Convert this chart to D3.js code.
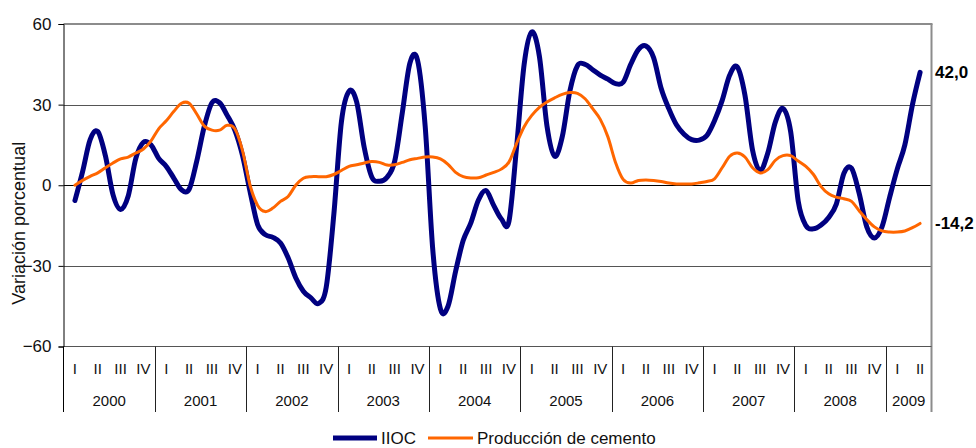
<!DOCTYPE html>
<html>
<head>
<meta charset="utf-8">
<script src="https://cdn.jsdelivr.net/npm/d3@7"></script>
<style>
  html, body { margin: 0; padding: 0; background: #fff; }
  svg { display: block; font-family: "Liberation Sans", Arial, sans-serif; }
</style>
</head>
<body>
<svg id="chart" width="976" height="448"></svg>
<script>
// Year and quarter labels of the category axis
const years = ["2000", "2001", "2002", "2003", "2004", "2005", "2006", "2007", "2008", "2009"];
const quarters = ["I", "II", "III", "IV"];
const lastQuarter = 2;          // 2009 runs up to quarter II
const yTicks = [60, 30, 0, -30, -60];
const firstMonth = 1;           // series start in February 2000 (month index 1)

// Year-on-year % change, centred three-month averages, Feb 2000 – May 2009
const iioc = [
  -5.7, 5, 17, 20, 11, -3.5, -9, -4, 10, 16, 15,
  10, 7, 2.6, -1.7, -1.5, 9, 22, 30.7, 30.7, 26, 20.5, 11.2,
  -2.3, -14.7, -18.4, -19.4, -21.5, -27, -34.4, -39.4, -41.9, -44, -38, -11,
  23.6, 35, 31, 14, 3, 1.5, 3, 9, 27, 45.5, 46.5, 22,
  -24, -46, -45, -32, -20.5, -14, -5.5, -2, -7.5, -12.5, -13.5, 14,
  45, 57, 48, 22, 10.8, 18, 35, 44.5, 45, 43, 41, 39.5,
  37.8, 38.3, 45, 50.5, 51.8, 47.5, 36, 28.5, 22.5, 19, 17, 16.8,
  18.5, 24, 31.5, 41, 44, 33.5, 13, 5.5, 12, 23.6, 28.5, 20,
  -6, -15, -16.2, -14.8, -12, -7, 4.5, 6.3, -3, -15.5, -19.6, -15.5,
  -4.5, 6, 15, 30, 42.0
];
const cemento = [
  0, 1.8, 3.3, 4.6, 6.5, 8.3, 9.8, 10.5, 12, 13.5, 16.5,
  21, 24, 27.5, 30.5, 30.5, 26.5, 22, 20.5, 20.5, 22.3, 21, 13,
  0, -7.5, -9.8, -8.5, -6, -4.2, 0, 2.6, 3.2, 3.2, 3.2, 4,
  5.5, 7, 7.6, 8.3, 8.8, 8.5, 7.5, 7.6, 8.5, 9.5, 10, 10.5,
  10.5, 9.8, 7.8, 4.8, 3.2, 2.7, 2.8, 3.8, 4.8, 6, 8.6, 15.5,
  21.8, 26, 29, 31, 32.5, 33.8, 34.5, 34.2, 32.2, 28.5, 24.5, 18,
  8.5, 2.2, 0.8, 1.8, 2, 1.8, 1.4, 0.8, 0.5, 0.5, 0.5, 0.9,
  1.4, 2.4, 6.5, 10.8, 12, 10.5, 6.5, 4.6, 5.8, 9.3, 11, 11,
  9, 7, 4, -0.5, -3.2, -4.4, -5, -6, -9.5, -12.8, -15.5, -17,
  -17.4, -17.4, -17, -15.8, -14.2
];

const seriesNames = ["IIOC", "Producción de cemento"];
const seriesColors = ["#000080", "#FF6600"];
const endLabels = ["42,0", "-14,2"];

const svg = d3.select("#chart");
const plotLeft = 63.5, plotRight = 931.5, plotTop = 24, plotBottom = 346.5;
const catBottom = 412;
const totalMonths = (years.length - 1) * 12 + lastQuarter * 3;

const x = d3.scaleLinear().domain([0, totalMonths]).range([plotLeft, plotRight]);
const y = d3.scaleLinear().domain([-60, 60]).range([plotBottom, plotTop]);

// Grid lines
svg.append("g").selectAll("line")
  .data(yTicks.filter(v => v !== 60 && v !== -60))
  .join("line")
  .attr("x1", plotLeft).attr("x2", plotRight)
  .attr("y1", d => Math.round(y(d)) + 0.5).attr("y2", d => Math.round(y(d)) + 0.5)
  .attr("stroke", d => d === 0 ? "#000" : "#555")
  .attr("stroke-width", 1);

// Plot frame: grey top and right edges
svg.append("line").attr("x1", plotLeft).attr("x2", plotRight + 1)
  .attr("y1", plotTop).attr("y2", plotTop).attr("stroke", "#8c8c8c").attr("stroke-width", 2);
svg.append("line").attr("x1", plotRight).attr("x2", plotRight)
  .attr("y1", plotTop).attr("y2", catBottom).attr("stroke", "#8c8c8c").attr("stroke-width", 2);
// Category axis baseline
svg.append("line").attr("x1", plotLeft).attr("x2", plotRight)
  .attr("y1", plotBottom).attr("y2", plotBottom).attr("stroke", "#555").attr("stroke-width", 1);

// Value axis
const yAxis = d3.axisLeft(y).tickValues(yTicks).tickSize(5).tickPadding(7).tickFormat(d3.format("d"));
const gy = svg.append("g").attr("transform", `translate(${plotLeft},0)`).call(yAxis);
gy.select(".domain").attr("stroke", "#000");
gy.selectAll(".tick line").attr("stroke", "#000");
gy.selectAll(".tick text").attr("font-size", 17).attr("fill", "#111")
  .attr("font-family", "Liberation Sans, Arial, sans-serif");
// The axis line continues down through the category band
svg.append("line").attr("x1", plotLeft).attr("x2", plotLeft)
  .attr("y1", plotBottom).attr("y2", catBottom).attr("stroke", "#000");

// Axis title
svg.append("text")
  .attr("transform", `translate(25,${(plotTop + plotBottom) / 2 + 38}) rotate(-90)`)
  .attr("text-anchor", "middle")
  .attr("font-size", 18).attr("fill", "#111")
  .text("Variación porcentual");

// Quarter and year labels with year separators
years.forEach((yr, i) => {
  const nq = i === years.length - 1 ? lastQuarter : 4;
  const start = i * 12, end = start + nq * 3;
  quarters.slice(0, nq).forEach((q, j) => {
    svg.append("text")
      .attr("x", x(start + j * 3 + 1.5)).attr("y", 374)
      .attr("text-anchor", "middle").attr("font-size", 15).attr("fill", "#111")
      .text(q);
  });
  svg.append("text")
    .attr("x", x((start + end) / 2)).attr("y", 406)
    .attr("text-anchor", "middle").attr("font-size", 15).attr("fill", "#111")
    .text(yr);
  if (i > 0) {
    svg.append("line").attr("x1", Math.round(x(start)) + 0.5).attr("x2", Math.round(x(start)) + 0.5)
      .attr("y1", plotBottom).attr("y2", catBottom).attr("stroke", "#222");
  }
});

// Series lines
const line = d3.line()
  .x((d, i) => x(firstMonth + i + 0.5))
  .y(d => y(d))
  .curve(d3.curveCatmullRom.alpha(0));

[iioc, cemento].forEach((s, k) => {
  svg.append("path")
    .datum(s)
    .attr("fill", "none")
    .attr("stroke", seriesColors[k])
    .attr("stroke-width", k === 0 ? 5 : 3)
    .attr("stroke-linejoin", "round")
    .attr("stroke-linecap", "round")
    .attr("d", line);
  // Value of the latest observation beside the plot
  svg.append("text")
    .attr("x", 935).attr("y", y(s[s.length - 1]))
    .attr("dy", "0.35em")
    .attr("font-size", 17).attr("font-weight", "bold").attr("fill", "#000")
    .text(endLabels[k]);
});

// Legend
const legend = svg.append("g");
const lg = [
  { x1: 333, x2: 377, tx: 381, w: 5 },
  { x1: 428, x2: 473, tx: 477, w: 3 }
];
seriesNames.forEach((name, k) => {
  legend.append("line")
    .attr("x1", lg[k].x1).attr("x2", lg[k].x2)
    .attr("y1", 438).attr("y2", 438)
    .attr("stroke", seriesColors[k]).attr("stroke-width", lg[k].w);
  legend.append("text")
    .attr("x", lg[k].tx).attr("y", 444)
    .attr("font-size", 17).attr("fill", "#111")
    .text(name);
});
</script>
</body>
</html>
